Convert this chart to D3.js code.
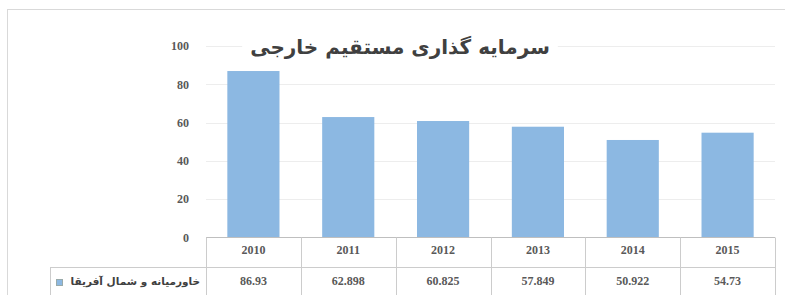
<!DOCTYPE html>
<html>
<head>
<meta charset="utf-8">
<script src="https://cdn.jsdelivr.net/npm/d3@7"></script>
<style>
  body { margin: 0; background: #fff; }
  svg { display: block; }
</style>
</head>
<body>
<svg id="chart"></svg>
<script>
// chart data
const years = ["2010", "2011", "2012", "2013", "2014", "2015"];
const values = [86.93, 62.898, 60.825, 57.849, 50.922, 54.73];
const valueLabels = ["86.93", "62.898", "60.825", "57.849", "50.922", "54.73"];
const yTicks = [0, 20, 40, 60, 80, 100];
const seriesName = "خاورمیانه و شمال آفریقا";
const title = "سرمایه گذاری مستقیم خارجی";

const w = 785, h = 295;
const svg = d3.select("#chart").attr("width", w).attr("height", h);

// outer chart frame
svg.append("rect")
    .attr("x", 7.5).attr("y", 9.5)
    .attr("width", 800).attr("height", 300)
    .attr("fill", "#fff")
    .attr("stroke", "#d9d9d9");

const plotLeft = 206, plotRight = 775, plotTop = 46, plotBottom = 237.5;
const numFont = "12px";

const x = d3.scaleBand()
    .domain(years)
    .range([plotLeft, plotRight])
    .paddingInner(0.45)
    .paddingOuter(0.225);

const y = d3.scaleLinear()
    .domain([0, 100])
    .range([plotBottom, plotTop]);

// gridlines
svg.append("g")
    .selectAll("line")
    .data(yTicks.filter(d => d > 0))
    .join("line")
    .attr("x1", plotLeft).attr("x2", plotRight)
    .attr("y1", d => Math.round(y(d)) + 0.5)
    .attr("y2", d => Math.round(y(d)) + 0.5)
    .attr("stroke", "#ededed");

// y labels
svg.append("g")
    .selectAll("text")
    .data(yTicks)
    .join("text")
    .attr("x", 189)
    .attr("y", d => y(d))
    .attr("dy", "0.35em")
    .attr("text-anchor", "end")
    .style("font-family", "Liberation Serif")
    .style("font-weight", "bold")
    .style("font-size", numFont)
    .attr("fill", "#595959")
    .text(d => d);

// bars
svg.append("g")
    .selectAll("rect")
    .data(years)
    .join("rect")
    .attr("x", d => x(d))
    .attr("width", x.bandwidth())
    .attr("y", (d, i) => y(values[i]))
    .attr("height", (d, i) => plotBottom - y(values[i]))
    .attr("fill", "#8cb8e2");

// title with white backing
const titleG = svg.append("g");
const titleText = titleG.append("text")
    .attr("x", 400)
    .attr("y", 47)
    .attr("dy", "0.35em")
    .attr("text-anchor", "middle")
    .attr("direction", "rtl")
    .style("font-family", "DejaVu Sans")
    .style("font-weight", "bold")
    .style("font-size", "20px")
    .attr("fill", "#404040")
    .text(title);
const bb = titleText.node().getBBox();
titleG.insert("rect", "text")
    .attr("x", bb.x - 8).attr("y", bb.y)
    .attr("width", bb.width + 16).attr("height", bb.height)
    .attr("fill", "#fff");

// data table
const tableColor = "#cccccc";
const rowMid = 267.5, tableBottom = 300;
const edges = years.map(d => x(d) - x.step() * x.paddingInner() / 2);
edges.push(plotRight);

const table = svg.append("g");
table.append("line")
    .attr("x1", plotLeft).attr("x2", plotRight)
    .attr("y1", plotBottom).attr("y2", plotBottom)
    .attr("stroke", "#bfbfbf");
table.append("line")
    .attr("x1", 50).attr("x2", plotRight)
    .attr("y1", rowMid).attr("y2", rowMid)
    .attr("stroke", tableColor);
table.selectAll(".vline")
    .data(edges)
    .join("line")
    .attr("class", "vline")
    .attr("x1", d => Math.round(d) + 0.5).attr("x2", d => Math.round(d) + 0.5)
    .attr("y1", plotBottom).attr("y2", tableBottom)
    .attr("stroke", tableColor);
table.append("line")
    .attr("x1", 50.5).attr("x2", 50.5)
    .attr("y1", rowMid).attr("y2", tableBottom)
    .attr("stroke", tableColor);

// year header row
table.selectAll(".year")
    .data(years)
    .join("text")
    .attr("class", "year")
    .attr("x", d => x(d) + x.bandwidth() / 2)
    .attr("y", 250)
    .attr("dy", "0.35em")
    .attr("text-anchor", "middle")
    .style("font-family", "Liberation Serif")
    .style("font-weight", "bold")
    .style("font-size", numFont)
    .attr("fill", "#595959")
    .text(d => d);

// value row
table.selectAll(".val")
    .data(years)
    .join("text")
    .attr("class", "val")
    .attr("x", d => x(d) + x.bandwidth() / 2)
    .attr("y", 281)
    .attr("dy", "0.35em")
    .attr("text-anchor", "middle")
    .style("font-family", "Liberation Serif")
    .style("font-weight", "bold")
    .style("font-size", numFont)
    .attr("fill", "#595959")
    .text((d, i) => valueLabels[i]);

// legend key + series name
table.append("rect")
    .attr("x", 56.5).attr("y", 279.5)
    .attr("width", 6).attr("height", 6)
    .attr("fill", "#8cb8e2")
    .attr("stroke", "#9aa");
table.append("text")
    .attr("x", 200)
    .attr("y", 281)
    .attr("dy", "0.35em")
    .attr("text-anchor", "end")
    .style("font-family", "DejaVu Sans")
    .style("font-weight", "bold")
    .style("font-size", "10.5px")
    .attr("fill", "#404040")
    .text(seriesName);
</script>
</body>
</html>
